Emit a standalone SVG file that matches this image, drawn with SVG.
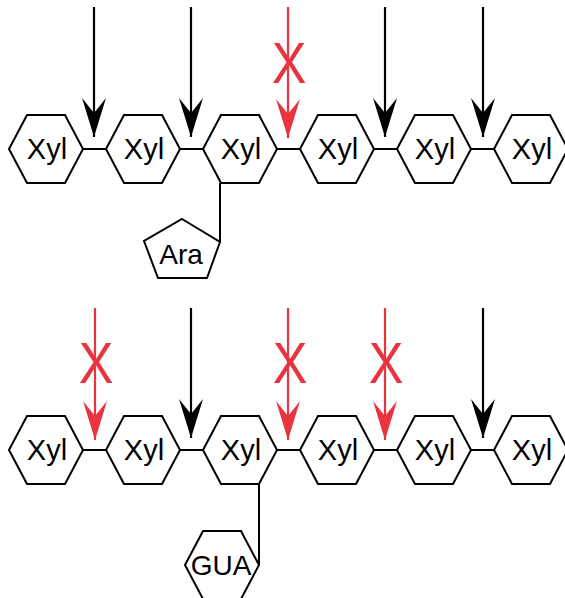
<svg xmlns="http://www.w3.org/2000/svg" xmlns:xlink="http://www.w3.org/1999/xlink" width="565" height="598" viewBox="0 0 565 598">
<style>
.shape{fill:#fff;stroke:#000;stroke-width:2;stroke-linejoin:miter}
.lbl{font-family:"Liberation Sans",Arial,sans-serif;font-size:29px;fill:#000;text-anchor:middle}
.link{stroke:#000;stroke-width:2;fill:none}
.arr{stroke:#000;stroke-width:2.2;fill:none}
.arr.red{stroke:#e8343f}
.xmark{font-family:"Liberation Sans",Arial,sans-serif;font-size:52px;fill:#e8343f;text-anchor:middle}
</style>
<defs>
<polygon id="hex" points="-37,0 -19,-34 19,-34 37,0 19,34 -19,34"/>
<marker id="hb" viewBox="0 -12 40 24" refX="40" refY="0" markerWidth="40" markerHeight="24" markerUnits="userSpaceOnUse" orient="auto">
<path d="M40,0 L1,-12 L16,0 L1,12 Z" fill="#000"/>
</marker>
<marker id="hr" viewBox="0 -12 40 24" refX="40" refY="0" markerWidth="40" markerHeight="24" markerUnits="userSpaceOnUse" orient="auto">
<path d="M40,0 L1,-12 L16,0 L1,12 Z" fill="#e8343f"/>
</marker>
</defs>
<rect width="565" height="598" fill="#fff"/>
<g id="connectors">
<line class="link" x1="83" y1="149" x2="106" y2="149"/>
<line class="link" x1="180" y1="149" x2="203" y2="149"/>
<line class="link" x1="277" y1="149" x2="300" y2="149"/>
<line class="link" x1="374" y1="149" x2="397" y2="149"/>
<line class="link" x1="471" y1="149" x2="494" y2="149"/>
<line class="link" x1="220" y1="183" x2="220" y2="242"/>
<line class="link" x1="83" y1="450" x2="106" y2="450"/>
<line class="link" x1="180" y1="450" x2="203" y2="450"/>
<line class="link" x1="277" y1="450" x2="300" y2="450"/>
<line class="link" x1="374" y1="450" x2="397" y2="450"/>
<line class="link" x1="471" y1="450" x2="494" y2="450"/>
<line class="link" x1="259" y1="484" x2="259" y2="565"/>
<line class="arr" x1="94" y1="7" x2="94" y2="137" marker-end="url(#hb)"/>
<line class="arr" x1="191" y1="7" x2="191" y2="137" marker-end="url(#hb)"/>
<line class="arr red" x1="288" y1="7" x2="288" y2="138" marker-end="url(#hr)"/>
<line class="arr" x1="385" y1="7" x2="385" y2="137" marker-end="url(#hb)"/>
<line class="arr" x1="483" y1="7" x2="483" y2="137" marker-end="url(#hb)"/>
<line class="arr red" x1="95" y1="308" x2="95" y2="440" marker-end="url(#hr)"/>
<line class="arr" x1="191" y1="308" x2="191" y2="438" marker-end="url(#hb)"/>
<line class="arr red" x1="288" y1="308" x2="288" y2="440" marker-end="url(#hr)"/>
<line class="arr red" x1="385" y1="308" x2="385" y2="440" marker-end="url(#hr)"/>
<line class="arr" x1="483" y1="308" x2="483" y2="438" marker-end="url(#hb)"/>
<text class="xmark" transform="translate(289,83) scale(1,1.1)">X</text>
<text class="xmark" transform="translate(96,383) scale(1,1.1)">X</text>
<text class="xmark" transform="translate(290,383) scale(1,1.1)">X</text>
<text class="xmark" transform="translate(386,383) scale(1,1.1)">X</text>
</g>
<g id="t1"><use xlink:href="#hex" class="shape" x="46" y="149"/><text class="lbl" x="47" y="159">Xyl</text></g>
<g id="t2"><use xlink:href="#hex" class="shape" x="143" y="149"/><text class="lbl" x="144" y="159">Xyl</text></g>
<g id="t3"><use xlink:href="#hex" class="shape" x="240" y="149"/><text class="lbl" x="241" y="159">Xyl</text></g>
<g id="t4"><use xlink:href="#hex" class="shape" x="337" y="149"/><text class="lbl" x="338" y="159">Xyl</text></g>
<g id="t5"><use xlink:href="#hex" class="shape" x="434" y="149"/><text class="lbl" x="435" y="159">Xyl</text></g>
<g id="t6"><use xlink:href="#hex" class="shape" x="531" y="149"/><text class="lbl" x="532" y="159">Xyl</text></g>
<g id="ara"><polygon class="shape" points="182,219 220,242 207,278 158,278 144,241"/><text class="lbl" x="181" y="264" style="font-size:28px">Ara</text></g>
<g id="b1"><use xlink:href="#hex" class="shape" x="46" y="450"/><text class="lbl" x="47" y="460">Xyl</text></g>
<g id="b2"><use xlink:href="#hex" class="shape" x="143" y="450"/><text class="lbl" x="144" y="460">Xyl</text></g>
<g id="b3"><use xlink:href="#hex" class="shape" x="240" y="450"/><text class="lbl" x="241" y="460">Xyl</text></g>
<g id="b4"><use xlink:href="#hex" class="shape" x="337" y="450"/><text class="lbl" x="338" y="460">Xyl</text></g>
<g id="b5"><use xlink:href="#hex" class="shape" x="434" y="450"/><text class="lbl" x="435" y="460">Xyl</text></g>
<g id="b6"><use xlink:href="#hex" class="shape" x="531" y="450"/><text class="lbl" x="532" y="460">Xyl</text></g>
<g id="gua"><use xlink:href="#hex" class="shape" x="222" y="565"/><text class="lbl" x="221" y="575" style="font-size:28px">GUA</text></g>
</svg>
